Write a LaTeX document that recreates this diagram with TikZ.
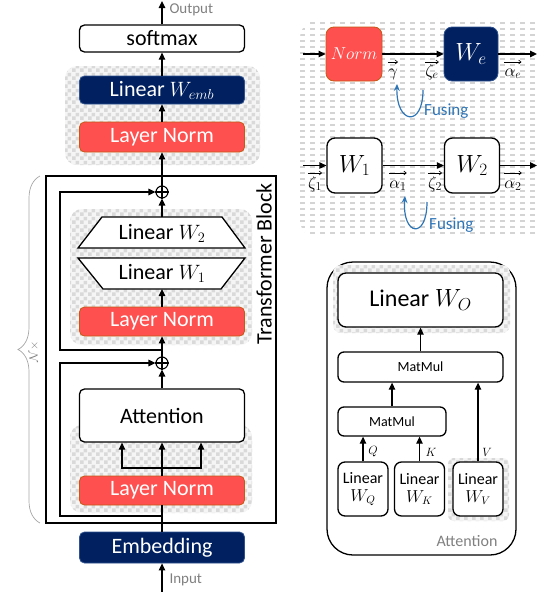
\documentclass[tikz,border=0pt]{standalone}
\usepackage{fontspec}
\setmainfont{Carlito}
\usetikzlibrary{arrows.meta,patterns.meta,decorations.pathreplacing,calc}
\definecolor{navy}{RGB}{0,32,96}
\definecolor{navyedge}{RGB}{47,82,143}
\definecolor{coral}{RGB}{255,80,80}
\definecolor{coraledge}{RGB}{197,90,17}
\definecolor{fuse}{RGB}{46,117,182}
\definecolor{lbl}{RGB}{128,128,128}
\tikzdeclarepattern{name=chk, type=uncolored, bounding box={(0pt,0pt) and (8pt,8pt)}, tile size={(8pt,8pt)}, code={\fill (0pt,0pt) rectangle (4pt,4pt); \fill (4pt,4pt) rectangle (8pt,8pt);}}
\newcommand{\checkerbox}[3]{\fill[black!4, rounded corners=#3] #1 rectangle #2; \fill[pattern=chk, pattern color=black!15, rounded corners=#3] #1 rectangle #2;}
% vector label: name, x, baseline y, arrow y, math
\newcommand{\vlab}[5]{\node[veclbl, anchor=base] (#1) at (#2,#3) {$#5$}; \draw[-{Straight Barb[length=2.5pt,width=4pt]}, line width=0.6pt] (#1.west |- 0,#4) -- (#1.east |- 0,#4);}
\begin{document}
\begin{tikzpicture}[x=1pt,y=-1pt,
  arr/.style={-{Triangle[length=7pt,width=6.5pt]}, line width=1.3pt},
  ln/.style={line width=1.3pt},
  bigfont/.style={font=\fontsize{22}{25}\selectfont},
  wbox/.style={draw, line width=1.3pt, rounded corners=5pt, fill=white, inner sep=0pt, bigfont},
  navybox/.style={draw=navyedge, line width=0.8pt, fill=navy, text=white, rounded corners=5pt, inner sep=0pt, bigfont},
  lnbox/.style={draw=coraledge, line width=0.8pt, fill=coral, text=white, rounded corners=5pt, inner sep=0pt, bigfont},
  oplus/.style={circle, draw, line width=1.1pt, minimum size=12pt, inner sep=0pt},
  graylbl/.style={text=lbl, font=\fontsize{15}{17}\selectfont},
  veclbl/.style={font=\fontsize{17}{20}\selectfont, inner sep=0pt},
  fusearr/.style={-{Stealth[length=7pt,width=6pt]}, draw=fuse, line width=1.2pt},
  fusetxt/.style={text=fuse, font=\fontsize{17}{20}\selectfont, anchor=west, inner sep=0pt},
  sqbox/.style={draw, line width=1.3pt, rounded corners=8pt, fill=white, minimum width=55pt, minimum height=55pt, inner sep=0pt, font=\fontsize{23}{27}\selectfont},
  smallbox/.style={draw, line width=1.3pt, rounded corners=6pt, fill=white, inner sep=0pt, font=\fontsize{14}{16}\selectfont},
  qkv/.style={draw, line width=1.3pt, rounded corners=7pt, fill=white, minimum width=50pt, minimum height=54pt, inner sep=0pt, align=center, font=\fontsize{16}{20}\selectfont}
]
\useasboundingbox (0,0) rectangle (538,592);

% ---------- backgrounds ----------
\begin{scope}
  \clip[rounded corners=18pt] (300,20) rectangle (560,238);
  \foreach \yy in {23,29,...,237} {
    \draw[black!17, line width=1.2pt, dash pattern=on 5pt off 5pt] (300,\yy) -- (540,\yy);
  }
\end{scope}
\checkerbox{(65,66)}{(260,165)}{12pt}
\checkerbox{(70,209)}{(252,345)}{12pt}
\checkerbox{(70,425)}{(252,513)}{12pt}

% ---------- left column ----------
\draw[line width=1.5pt] (46,176) rectangle (276,523);
\node[rotate=90, bigfont] (tb) at (264,264) {Transformer Block};

\node[wbox, minimum width=165pt, minimum height=27pt] (soft) at (162,38.5) {softmax};
\node[navybox, minimum width=165pt, minimum height=28pt] (wemb) at (162,90) {Linear $W_{emb}$};
\node[lnbox, minimum width=165pt, minimum height=30pt] (ln1) at (162,137) {Layer Norm};
\node[oplus] (p1) at (162,192) {};
\draw[line width=1.1pt] (p1.north) -- (p1.south) (p1.west) -- (p1.east);

\draw[ln, fill=white] (102,217) -- (222,217) -- (245,248) -- (78,248) -- cycle;
\node[bigfont] (w2) at (162,233) {Linear $W_2$};
\coordinate (w2top) at (162,217);
\draw[ln, fill=white] (78,258) -- (245,258) -- (221,289) -- (103,289) -- cycle;
\node[bigfont] (w1) at (162,273) {Linear $W_1$};
\coordinate (w1bot) at (162,289);

\node[lnbox, minimum width=165pt, minimum height=29pt] (ln2) at (162,321.5) {Layer Norm};
\node[oplus] (p2) at (162,363) {};
\draw[line width=1.1pt] (p2.north) -- (p2.south) (p2.west) -- (p2.east);
\node[wbox, minimum width=165pt, minimum height=53pt] (att) at (162,415.5) {Attention};
\node[lnbox, minimum width=165pt, minimum height=29pt] (ln3) at (162,490.5) {Layer Norm};
\node[navybox, minimum width=165pt, minimum height=31pt] (emb) at (162,547.5) {Embedding};

\coordinate (out) at (162,1);
\coordinate (inp) at (162,592);
\node[graylbl, anchor=west] (outl) at (166,10) {Output};
\node[graylbl, anchor=west] (inpl) at (166,580) {Input};

\draw[arr] (inp) -- (emb.south);
\draw[ln] (emb.north) -- (ln3.south);
\coordinate (r2) at (162,516);
\coordinate (r2c) at (60,516);
\draw[arr] (r2) -- (r2c) |- (p2.west);
\draw[arr] (ln3.north) -- (att.south);
\coordinate (br) at (162,468);
\draw[arr] (br) -| ([xshift=-40pt]att.south);
\draw[arr] (br) -| ([xshift=39pt]att.south);
\draw[arr] (att.north) -- (p2.south);
\draw[arr] (p2.north) -- (ln2.south);
\draw[arr] (ln2.north) -- (w1bot);
\coordinate (r1) at (162,350);
\coordinate (r1c) at (60,350);
\draw[arr] (r1) -- (r1c) |- (p1.west);
\draw[arr] (w2top) -- (p1.south);
\draw[arr] (p1.north) -- (ln1.south);
\draw[arr] (ln1.north) -- (wemb.south);
\draw[arr] (wemb.north) -- (soft.south);
\draw[arr] (soft.north) -- (out);

\draw[lbl!70, line width=0.7pt, decorate, decoration={brace, amplitude=22pt, aspect=0.5}] (40,523) -- (40,176);
\node[rotate=90, text=lbl, font=\fontsize{13}{15}\selectfont] (nx) at (34,352) {$\mathcal{N}\times$};

% ---------- top right ----------
\node[draw=coraledge, line width=0.8pt, fill=coral, text=white, rounded corners=8pt, minimum width=56pt, minimum height=54pt, inner sep=0pt, font=\fontsize{17}{20}\selectfont] (norm) at (354,54) {$Norm$};
\node[draw=navyedge, line width=0.8pt, fill=navy, text=white, rounded corners=8pt, minimum width=54pt, minimum height=54pt, inner sep=0pt, font=\fontsize{23}{27}\selectfont] (we) at (471,54) {$W_e$};
\coordinate (in1) at (303,54);
\coordinate (out1) at (537,54);
\draw[arr] (in1) -- (norm.west);
\draw[arr] (norm.east) -- (we.west);
\draw[arr] (we.east) -- (out1);
\vlab{gam}{393}{76}{62}{\gamma}
\vlab{zee}{432}{76}{62}{\zeta_e}
\vlab{ale}{513}{76}{62}{\alpha_e}
\coordinate (f1s) at (423,90);
\coordinate (f1e) at (397,84);
\draw[fusearr] (f1s) .. controls (423,128) and (396,124) .. (f1e);
\node[fusetxt] (fus1) at (424,111) {Fusing};

\node[sqbox] (wr1) at (354.5,165.5) {$W_1$};
\node[sqbox] (wr2) at (472,165.5) {$W_2$};
\coordinate (in2) at (303,165.5);
\coordinate (out2) at (537,165.5);
\draw[arr] (in2) -- (wr1.west);
\draw[arr] (wr1.east) -- (wr2.west);
\draw[arr] (wr2.east) -- (out2);
\vlab{z1}{315}{188}{173}{\zeta_1}
\vlab{a1}{398}{188}{173}{\alpha_1}
\vlab{z2}{435}{188}{173}{\zeta_2}
\vlab{a2}{513}{188}{173}{\alpha_2}
\coordinate (f2s) at (427,202);
\coordinate (f2e) at (405,196);
\draw[fusearr] (f2s) .. controls (427,240) and (402,236) .. (f2e);
\node[fusetxt] (fus2) at (429,225) {Fusing};

% ---------- bottom right: attention ----------
\draw[line width=1.3pt, rounded corners=26pt] (327,262) rectangle (516,555);
\checkerbox{(333,265)}{(510,333)}{8pt}
\checkerbox{(448,458)}{(509,521)}{6pt}
\node[wbox, rounded corners=8pt, minimum width=165pt, minimum height=54pt, font=\fontsize{24}{28}\selectfont] (wo) at (420.5,300) {Linear $W_O$};
\node[smallbox, minimum width=165pt, minimum height=30pt] (mm1) at (420.5,367) {MatMul};
\node[smallbox, minimum width=108pt, minimum height=29pt] (mm2) at (392,421.5) {MatMul};
\node[qkv] (wq) at (363,489) {Linear\\[-2pt]$W_Q$};
\node[qkv] (wk) at (419.5,489) {Linear\\[-2pt]$W_K$};
\node[qkv] (wv) at (478,489) {Linear\\[-2pt]$W_V$};
\draw[arr] (wq.north) -- (wq.north |- mm2.south);
\draw[arr] (wk.north) -- (wk.north |- mm2.south);
\draw[arr] (wv.north) -- (wv.north |- mm1.south);
\draw[arr] (mm2.north) -- (mm2.north |- mm1.south);
\draw[arr] (mm1.north) -- (wo.south);
\node[font=\fontsize{13}{15}\selectfont, inner sep=0pt] (lq) at (373,452) {$Q$};
\node[font=\fontsize{13}{15}\selectfont, inner sep=0pt] (lk) at (431,452) {$K$};
\node[font=\fontsize{13}{15}\selectfont, inner sep=0pt] (lv) at (487,452) {$V$};
\node[text=lbl, font=\fontsize{16}{19}\selectfont] (attl) at (467,541) {Attention};
\end{tikzpicture}
\end{document}
